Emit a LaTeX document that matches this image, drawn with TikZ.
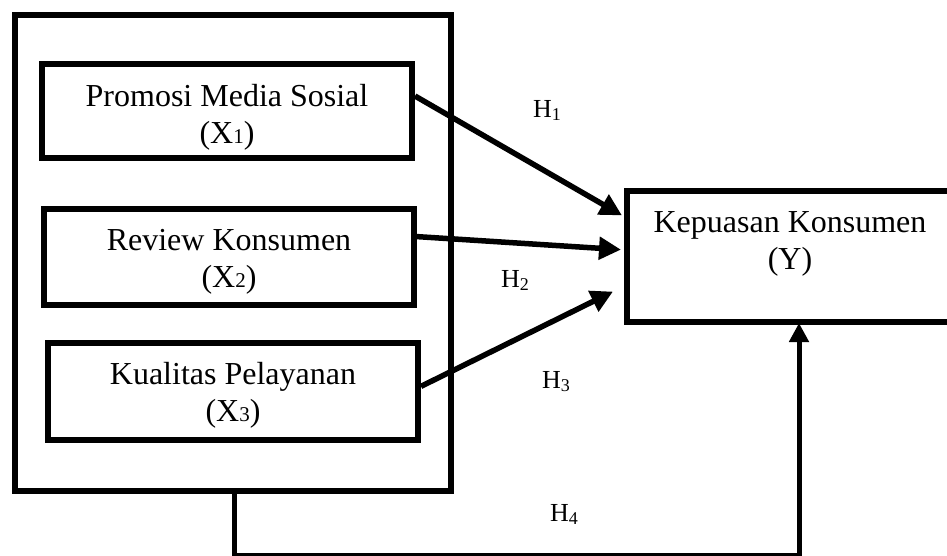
\documentclass[tikz,border=0pt]{standalone}
\usepackage{fontspec}
\setmainfont{Liberation Serif}
\usetikzlibrary{arrows.meta,calc}
\newcommand{\boxsub}[1]{{\fontsize{21}{21}\selectfont #1}}
\newcommand{\hsub}[1]{\raisebox{-3pt}{\fontsize{18}{18}\selectfont #1}}
\begin{document}
\begin{tikzpicture}[x=1pt,y=-1pt,
  box/.style={draw,line width=6pt,rectangle,inner sep=0pt},
  boxtext/.style={align=center,font=\fontsize{32}{37}\selectfont,inner sep=0pt},
  hlabel/.style={font=\fontsize{26}{30}\selectfont,inner sep=0pt,anchor=base west},
  arr/.style={line width=5.5pt,-{Triangle[length=22pt,width=22pt]}},
]
\useasboundingbox (0,0) rectangle (947,555);

\node[box,minimum width=436.5pt,minimum height=476pt] (outer) at (232.75,253) {};
\node[box,minimum width=370pt,minimum height=94pt] (x1) at (227,111) {};
\node[box,minimum width=370pt,minimum height=96pt] (x2) at (229,257) {};
\node[box,minimum width=370pt,minimum height=97pt] (x3) at (233,391.5) {};
\node[box,minimum width=326pt,minimum height=131pt] (y) at (790,256.5) {};

\node[boxtext] (t1) at (227,117) {Promosi Media Sosial\\(X\boxsub{1})};
\node[boxtext] (t2) at (229,261.5) {Review Konsumen\\(X\boxsub{2})};
\node[boxtext] (t3) at (233,395.5) {Kualitas Pelayanan\\(X\boxsub{3})};
\node[boxtext] (ty) at (790,244) {Kepuasan Konsumen\\(Y)};

\draw[arr] ($(x1.north east)!0.35!(x1.south east)$) -- ([xshift=-2pt]$(y.north west)!0.2!(y.south west)$);
\draw[arr] ($(x2.north east)!0.30!(x2.south east)$) -- ([xshift=-3pt]$(y.north west)!0.45!(y.south west)$);
\draw[arr] ($(x3.north east)!0.45!(x3.south east)$) -- ([xshift=-11pt]$(y.north west)!0.756!(y.south west)$);
\draw[line width=5pt,-{Triangle[length=19pt,width=19pt]}] ([xshift=1.5pt]outer.south) -- ++(0,61) -| ([xshift=9pt,yshift=2pt]y.south);

\node[hlabel] (h1) at (533,117) {H\hsub{1}};
\node[hlabel] (h2) at (501,287) {H\hsub{2}};
\node[hlabel] (h3) at (542,388) {H\hsub{3}};
\node[hlabel] (h4) at (550,521) {H\hsub{4}};
\end{tikzpicture}
\end{document}
